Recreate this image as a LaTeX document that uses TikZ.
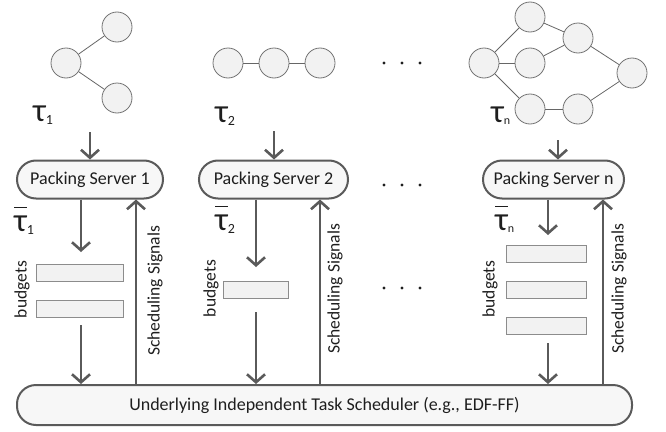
\documentclass[tikz,border=0pt]{standalone}
\usepackage{fontspec}
\setmainfont{Carlito}
\usetikzlibrary{arrows.meta,shapes.misc}
\definecolor{dk}{HTML}{5A5A5A}
\definecolor{txt}{HTML}{1E1E1E}
\newcommand\tsub[1]{\raisebox{-3pt}{\fontsize{14}{14}\selectfont #1}}
\newcommand\tsubn{\raisebox{-2pt}{\fontsize{12}{12}\selectfont n}}
\newcommand\tbar{{\setbox0\hbox{τ}\rlap{\raisebox{23pt}{\rule{\wd0}{1.4pt}}}\box0}}
\begin{document}
\begin{tikzpicture}[x=1pt,y=-1pt,
  vtx/.style={circle,draw=black!55,fill=black!5,minimum size=30pt,inner sep=0pt,line width=0.8pt},
  edg/.style={draw=black!60,line width=0.8pt},
  flow/.style={draw=dk,line width=2.6pt,-{Straight Barb[length=8pt,width=18pt]}},
  server/.style={rounded rectangle,draw=dk,line width=2pt,fill=black!3,minimum height=38pt,inner sep=0pt,text=txt,font=\fontsize{18}{20}\selectfont},
  budget/.style={rectangle,draw=black!45,fill=black!5,minimum width=87pt,minimum height=17pt,inner sep=0pt,line width=0.6pt},
  lab/.style={text=txt,inner sep=0pt,font=\fontsize{17.5}{19}\selectfont,rotate=90},
  tau/.style={text=txt,inner sep=0pt,anchor=base west,font=\fontsize{33}{35}\selectfont},
  dot/.style={circle,fill=txt,inner sep=0pt,minimum size=3.4pt}]
\useasboundingbox (0,0) rectangle (666,431);

% task graph 1
\node[vtx] (t1a) at (66,63) {};
\node[vtx] (t1b) at (117,27) {};
\node[vtx] (t1c) at (117,98) {};
\draw[edg] (t1a) -- (t1b);
\draw[edg] (t1a) -- (t1c);
\node[tau] (tau1) at (33,121) {τ\tsub{1}};

% task graph 2
\node[vtx] (t2a) at (228,63) {};
\node[vtx] (t2b) at (274,63) {};
\node[vtx] (t2c) at (320,63) {};
\draw[edg] (t2a) -- (t2b);
\draw[edg] (t2b) -- (t2c);
\node[tau] (tau2) at (215,122) {τ\tsub{2}};

% task graph n
\node[vtx] (na) at (484,63) {};
\node[vtx] (nb) at (530,17) {};
\node[vtx] (nc) at (530,63) {};
\node[vtx] (nd) at (578,38) {};
\node[vtx] (ne) at (632,73) {};
\node[vtx] (nf) at (530,109) {};
\node[vtx] (ng) at (578,109) {};
\draw[edg] (na) -- (nb);
\draw[edg] (na) -- (nc);
\draw[edg] (na) -- (nf);
\draw[edg] (nb) -- (nd);
\draw[edg] (nc) -- (nd);
\draw[edg] (nd) -- (ne);
\draw[edg] (nf) -- (ng);
\draw[edg] (ng) -- (ne);
\node[tau] (taun) at (491,122) {τ\tsubn};

% dots
\foreach \yy/\nm in {63/a,185/b,288/c}{
  \node[dot] (d1\nm) at (384,\yy) {};
  \node[dot] (d2\nm) at (402,\yy) {};
  \node[dot] (d3\nm) at (420,\yy) {};
}

% servers
\node[server,minimum width=146pt] (s1) at (90,179.5) {Packing Server 1};
\node[server,minimum width=149pt] (s2) at (273.5,179.5) {Packing Server 2};
\node[server,minimum width=141pt] (sn) at (553.5,179.5) {Packing Server n};

% bottom scheduler
\node[rectangle,rounded corners=19pt,draw=dk,line width=2pt,fill=black!3,minimum width=615pt,minimum height=40pt,inner sep=0pt,text=txt,font=\fontsize{18}{20}\selectfont] (u) at (324.5,405) {Underlying Independent Task Scheduler (e.g., EDF-FF)};

% input arrows
\coordinate (i1) at (90,132);
\coordinate (i2) at (274,131);
\coordinate (in) at (558,140);
\draw[flow] (i1) -- (s1.north -| i1);
\draw[flow] (i2) -- (s2.north -| i2);
\draw[flow] (in) -- (sn.north -| in);

% tau bars
\node[tau] (tb1) at (14,231) {\tbar\tsub{1}};
\node[tau] (tb2) at (215,230) {\tbar\tsub{2}};
\node[tau] (tbn) at (495,230) {\tbar\tsubn};

% budgets
\node[budget] (b11) at (79.5,272.5) {};
\node[budget] (b12) at (79.5,308.5) {};
\node[budget,minimum width=65pt] (b21) at (255.5,289.5) {};
\node[budget,minimum width=80pt] (bn1) at (546,253.5) {};
\node[budget,minimum width=80pt] (bn2) at (546,289.5) {};
\node[budget,minimum width=80pt] (bn3) at (546,325.5) {};

\node[lab] (bl1) at (22,289.5) {budgets};
\node[lab] (bl2) at (211,288.5) {budgets};
\node[lab] (bln) at (490,289) {budgets};

\node[lab] (sl1) at (155,291) {Scheduling Signals};
\node[lab] (sl2) at (335,289) {Scheduling Signals};
\node[lab] (sln) at (619,289) {Scheduling Signals};

% column 1 arrows
\coordinate (c1a) at (81,252);
\coordinate (c1b) at (81,325);
\draw[flow] (s1.south -| c1a) -- (c1a);
\draw[flow] (c1b) -- (u.north -| c1b);
\coordinate (g1) at (136,385);
\draw[flow] (g1) -- (s1.south -| g1);

% column 2 arrows
\coordinate (c2a) at (256,267);
\coordinate (c2b) at (256,312);
\draw[flow] (s2.south -| c2a) -- (c2a);
\draw[flow] (c2b) -- (u.north -| c2b);
\coordinate (g2) at (320,385);
\draw[flow] (g2) -- (s2.south -| g2);

% column n arrows
\coordinate (cna) at (548,235);
\coordinate (cnb) at (548,343);
\draw[flow] (sn.south -| cna) -- (cna);
\draw[flow] (cnb) -- (u.north -| cnb);
\coordinate (gn) at (603,385);
\draw[flow] (gn) -- (sn.south -| gn);
\end{tikzpicture}
\end{document}
